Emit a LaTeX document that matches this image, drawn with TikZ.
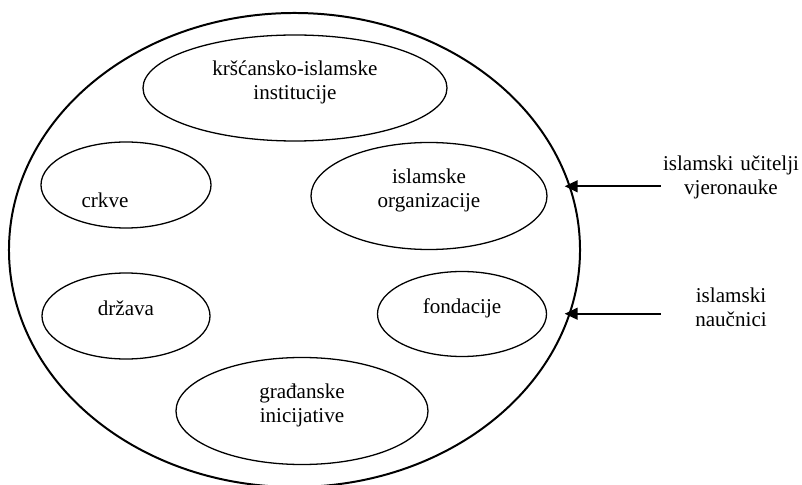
\documentclass[tikz,border=0pt]{standalone}
\usepackage{fontspec}
\setmainfont{Liberation Serif}
\usepackage{tikz}
\usetikzlibrary{shapes.geometric,arrows.meta}
\tikzstyle{okvir} = [draw, ellipse, line width=1.7pt, inner sep=0pt]
\tikzstyle{cell} = [draw, ellipse, line width=1.1pt, inner sep=0pt, align=center,
text depth=0.45cm]
\tikzstyle{akter} = [text width=4.2cm, align=center, inner sep=0pt]
\tikzstyle{pijl} = [-{Triangle[length=11pt,width=10pt]}, line width=1.6pt, shorten >=-5pt]

\begin{document}
\begin{tikzpicture}[x=0.03cm, y=-0.03cm, font=\rmfamily\fontsize{18}{20.5}\selectfont]
	\useasboundingbox (0,0) rectangle (802,485);
	% We start by placing the big ellipse and the ones inside it
	\node [okvir, minimum width=17.13cm, minimum height=14.22cm] (okvir) at (294.5,250) {};
	\node [cell, minimum width=9.12cm, minimum height=3.18cm] (krscansko) at (295,88)
	{kršćansko-islamske\\institucije};
	\node [cell, minimum width=5.1cm, minimum height=2.58cm] (crkve) at (126,185) {};
	\node [inner sep=0pt] (crkve tekst) at ([shift={(-21,15)}]crkve.center) {crkve};
	\node [cell, minimum width=5.04cm, minimum height=2.58cm, below of=crkve,
	node distance=3.93cm] (drzava) {država};
	\node [cell, minimum width=7.08cm, minimum height=3.21cm] (organizacije) at (429,196)
	{islamske\\organizacije};
	\node [cell, minimum width=5.07cm, minimum height=2.55cm] (fondacije) at (462,314) {fondacije};
	\node [cell, minimum width=7.56cm, minimum height=3.21cm] (gradjanske) at (302,411)
	{građanske\\inicijative};
	
	% The actors outside come in from the right
	\node [akter] (ucitelji) at (731,177) {islamski učitelji\\vjeronauke};
	\node [akter, below of=ucitelji, node distance=3.9cm] (naucnici) {islamski\\naučnici};
	\draw [pijl] (ucitelji.west |- okvir.13.32) -- (okvir.13.32);
	\draw [pijl] (ucitelji.west |- okvir.-13.1) -- (okvir.-13.1);
\end{tikzpicture}
\end{document}
